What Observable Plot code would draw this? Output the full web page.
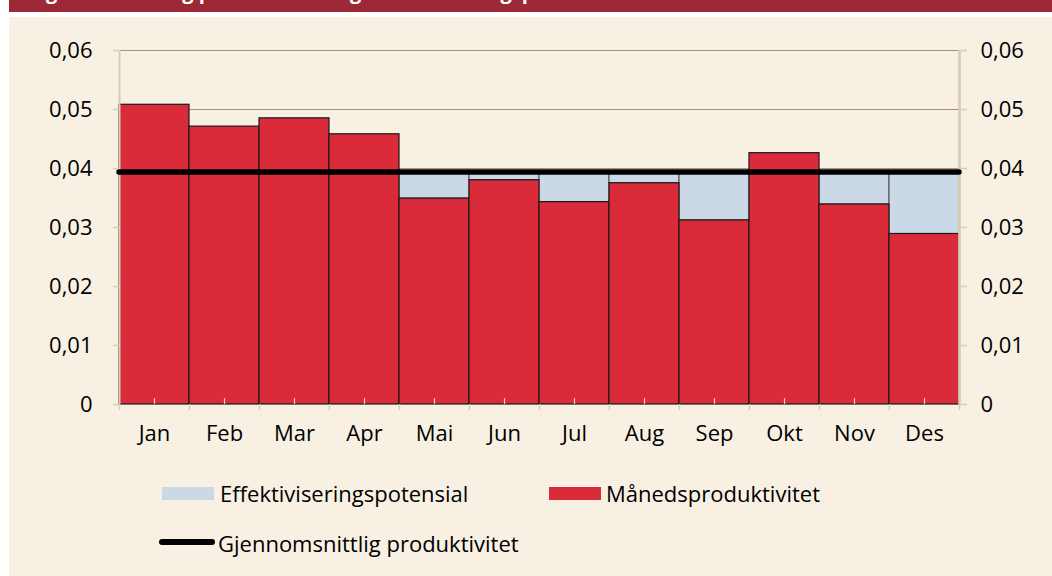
<!DOCTYPE html>
<html>
<head>
<meta charset="utf-8">
<script src="https://cdn.jsdelivr.net/npm/d3@7"></script>
<script src="https://cdn.jsdelivr.net/npm/@observablehq/plot@0.6"></script>
<style>
  html, body { margin: 0; padding: 0; background: #ffffff; }
  #page { position: relative; width: 1052px; height: 576px; overflow: hidden; font-family: "Open Sans", sans-serif; }
  #banner { position: absolute; left: 9px; top: 0; width: 1043px; height: 12px; background: #9d2936; overflow: hidden; }
  #banner .title { position: absolute; left: 20px; top: -18px; line-height: 20px; font-size: 20px; font-weight: bold; color: #ffffff; white-space: nowrap; }
  #panel { position: absolute; left: 9px; top: 17px; width: 1043px; height: 559px; background: #f8f0e2; }
  #chart { position: absolute; left: 0; top: 0; }
  .sw { position: absolute; }
  .lt { position: absolute; font-size: 22px; line-height: 22px; color: #000; white-space: nowrap; }
</style>
</head>
<body>
<div id="page">
  <div id="banner"><div class="title">Figur 1 Månedlig produktivitet og effektiviseringspotensial</div></div>
  <div id="panel"></div>
  <div id="chart"></div>
  <div id="legend"></div>
</div>
<script>
// ---- data ----
const months = ["Jan", "Feb", "Mar", "Apr", "Mai", "Jun", "Jul", "Aug", "Sep", "Okt", "Nov", "Des"];
const monthly = [0.0508, 0.0471, 0.0485, 0.0458, 0.0349, 0.0380, 0.0343, 0.0375, 0.0312, 0.0426, 0.0339, 0.0289];
const average = 0.0394;
const yTicks = [0, 0.01, 0.02, 0.03, 0.04, 0.05, 0.06];
const seriesNames = ["Effektiviseringspotensial", "Månedsproduktivitet", "Gjennomsnittlig produktivitet"];
const seriesColors = ["#cbd9e6", "#d92b3a", "#000000"];

// ---- derived tables ----
const rows = months.map((m, i) => ({month: m, i, value: monthly[i]}));
const gapRows = rows.filter(d => d.value < average);
const boundaries = months.map((_, i) => i).concat([months.length]);
const centers = months.map((_, i) => i + 0.5);
const fmt = d => d === 0 ? "0" : d.toFixed(2).replace(".", ",");

const axisColor = "#d8ceb3";

const chart = Plot.plot({
  width: 1052,
  height: 460,
  marginLeft: 119,
  marginRight: 93,
  marginTop: 50,
  marginBottom: 56,
  style: {background: "transparent", fontFamily: "Open Sans, sans-serif", fontSize: "22px", color: "#000", overflow: "visible"},
  x: {domain: [0, months.length], axis: null, label: null},
  y: {domain: [0, 0.06], axis: null, label: null},
  marks: [
    Plot.ruleY(yTicks.slice(1), {stroke: "#a58f7f", strokeWidth: 1}),
    Plot.rect(gapRows, {x1: "i", x2: d => d.i + 1, y1: "value", y2: () => average, fill: seriesColors[0], stroke: "#4a4a4a", strokeWidth: 1}),
    Plot.rect(rows, {x1: "i", x2: d => d.i + 1, y1: () => 0, y2: "value", fill: seriesColors[1], stroke: "#1a1a1a", strokeWidth: 1.2}),
    Plot.ruleX(rows, {x: d => d.i + 0.5, y1: () => 0, y2: () => 0.001, stroke: "#ecd3c6", strokeWidth: 1.2}),
    Plot.ruleX([0], {stroke: axisColor, strokeWidth: 2}),
    Plot.ruleX([months.length], {stroke: axisColor, strokeWidth: 2.7}),
    Plot.axisY({anchor: "left", label: null, ticks: yTicks, tickSize: 6, tickPadding: 21, tickFormat: fmt, stroke: axisColor, strokeWidth: 1.5, fill: "#000", fontSize: 22}),
    Plot.axisY({anchor: "right", label: null, ticks: yTicks, tickSize: 7, tickPadding: 14, tickFormat: fmt, stroke: axisColor, strokeWidth: 1.5, fill: "#000", fontSize: 22}),
    Plot.axisX({anchor: "bottom", label: null, ticks: boundaries, tickSize: 6, tickFormat: () => "", stroke: axisColor, strokeWidth: 1.5}),
    Plot.axisX({anchor: "bottom", label: null, ticks: centers, tickSize: 0, tickPadding: 21, tickFormat: d => months[Math.floor(d)], fill: "#000", fontSize: 22}),
    Plot.ruleY([average], {stroke: seriesColors[2], strokeWidth: 5.5, strokeLinecap: "round"})
  ]
});
document.getElementById("chart").appendChild(chart);

// ---- legend ----
const legend = document.getElementById("legend");
const legendItems = [
  {name: seriesNames[0], color: seriesColors[0], kind: "box", sx: 162, sy: 487, tx: 220, ty: 481.5},
  {name: seriesNames[1], color: seriesColors[1], kind: "box", sx: 549, sy: 487, tx: 606, ty: 481.5},
  {name: seriesNames[2], color: seriesColors[2], kind: "line", sx: 159, sy: 539, tx: 218, ty: 531.5}
];
for (const it of legendItems) {
  const sw = document.createElement("div");
  sw.className = "sw";
  sw.style.left = it.sx + "px";
  sw.style.top = it.sy + "px";
  sw.style.background = it.color;
  if (it.kind === "box") { sw.style.width = "52px"; sw.style.height = "13px"; }
  else { sw.style.width = "56px"; sw.style.height = "6px"; sw.style.borderRadius = "3px"; }
  legend.appendChild(sw);
  const t = document.createElement("div");
  t.className = "lt";
  t.style.left = it.tx + "px";
  t.style.top = it.ty + "px";
  t.textContent = it.name;
  legend.appendChild(t);
}
</script>
</body>
</html>
